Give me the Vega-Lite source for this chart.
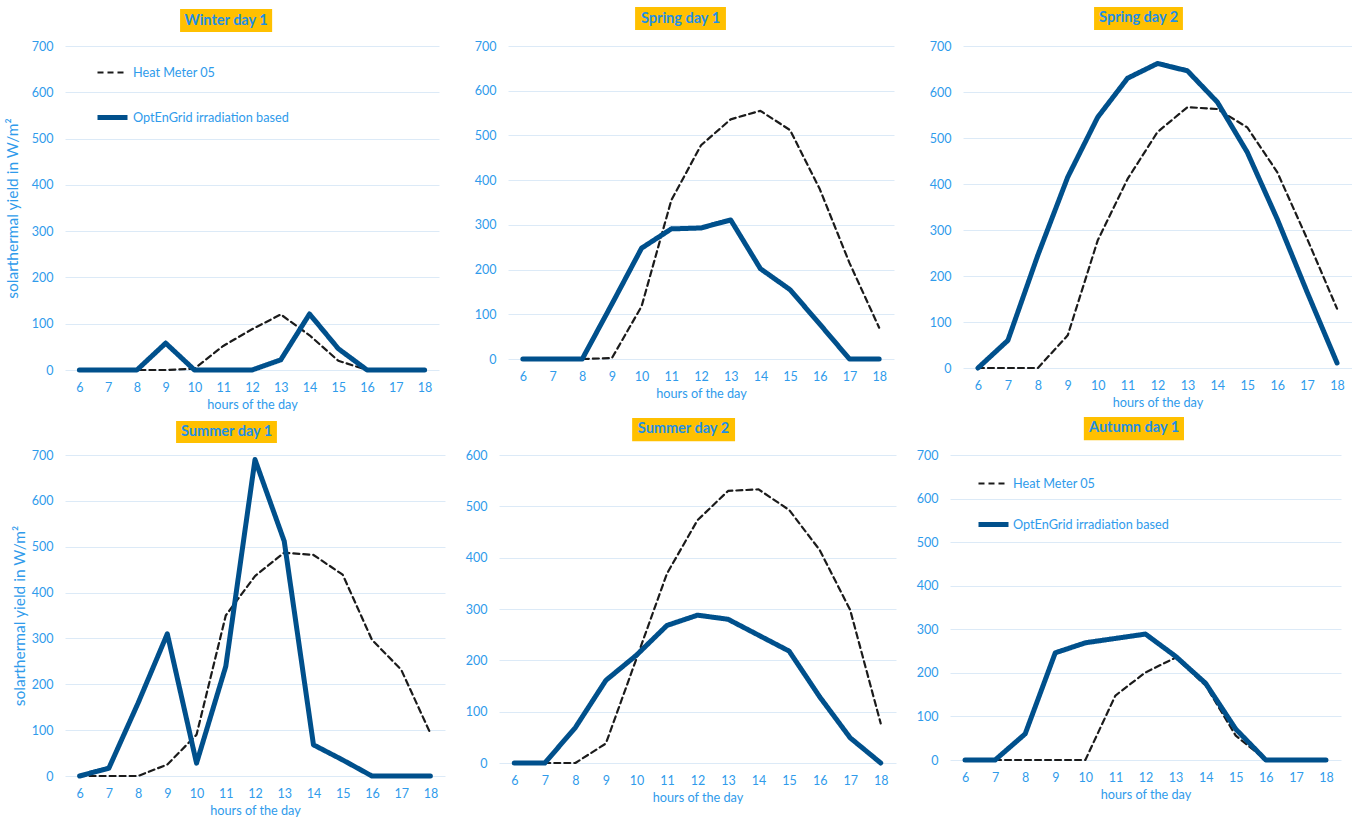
{
  "$schema": "https://vega.github.io/schema/vega-lite/v6.json",
  "padding": {"left": 5, "top": 6, "right": 0, "bottom": 0},
  "background": "white",
  "datasets": {
    "d": [
      {"p":"W1","h":6,"hm":0,"og":0},{"p":"W1","h":7,"hm":0,"og":0},{"p":"W1","h":8,"hm":0,"og":0},{"p":"W1","h":9,"hm":0,"og":58},{"p":"W1","h":10,"hm":3,"og":0},{"p":"W1","h":11,"hm":52,"og":0},{"p":"W1","h":12,"hm":88,"og":0},{"p":"W1","h":13,"hm":120,"og":22},{"p":"W1","h":14,"hm":75,"og":121},{"p":"W1","h":15,"hm":20,"og":46},{"p":"W1","h":16,"hm":0,"og":0},{"p":"W1","h":17,"hm":0,"og":0},{"p":"W1","h":18,"hm":0,"og":0},
      {"p":"S1","h":6,"hm":0,"og":0},{"p":"S1","h":7,"hm":0,"og":0},{"p":"S1","h":8,"hm":0,"og":0},{"p":"S1","h":9,"hm":2,"og":123},{"p":"S1","h":10,"hm":118,"og":248},{"p":"S1","h":11,"hm":355,"og":291},{"p":"S1","h":12,"hm":478,"og":293},{"p":"S1","h":13,"hm":536,"og":311},{"p":"S1","h":14,"hm":555,"og":202},{"p":"S1","h":15,"hm":512,"og":155},{"p":"S1","h":16,"hm":380,"og":78},{"p":"S1","h":17,"hm":215,"og":0},{"p":"S1","h":18,"hm":70,"og":0},
      {"p":"S2","h":6,"hm":0,"og":0},{"p":"S2","h":7,"hm":0,"og":60},{"p":"S2","h":8,"hm":0,"og":245},{"p":"S2","h":9,"hm":71,"og":415},{"p":"S2","h":10,"hm":277,"og":545},{"p":"S2","h":11,"hm":411,"og":630},{"p":"S2","h":12,"hm":513,"og":662},{"p":"S2","h":13,"hm":567,"og":646},{"p":"S2","h":14,"hm":563,"og":578},{"p":"S2","h":15,"hm":523,"og":469},{"p":"S2","h":16,"hm":426,"og":324},{"p":"S2","h":17,"hm":281,"og":165},{"p":"S2","h":18,"hm":129,"og":11},
      {"p":"U1","h":6,"hm":0,"og":0},{"p":"U1","h":7,"hm":0,"og":17},{"p":"U1","h":8,"hm":0,"og":159},{"p":"U1","h":9,"hm":25,"og":310},{"p":"U1","h":10,"hm":90,"og":28},{"p":"U1","h":11,"hm":350,"og":239},{"p":"U1","h":12,"hm":436,"og":690},{"p":"U1","h":13,"hm":487,"og":512},{"p":"U1","h":14,"hm":482,"og":68},{"p":"U1","h":15,"hm":439,"og":35},{"p":"U1","h":16,"hm":297,"og":0},{"p":"U1","h":17,"hm":232,"og":0},{"p":"U1","h":18,"hm":93,"og":0},
      {"p":"U2","h":6,"hm":0,"og":0},{"p":"U2","h":7,"hm":0,"og":0},{"p":"U2","h":8,"hm":0,"og":69},{"p":"U2","h":9,"hm":38,"og":161},{"p":"U2","h":10,"hm":203,"og":210},{"p":"U2","h":11,"hm":369,"og":268},{"p":"U2","h":12,"hm":473,"og":288},{"p":"U2","h":13,"hm":530,"og":280},{"p":"U2","h":14,"hm":533,"og":249},{"p":"U2","h":15,"hm":493,"og":218},{"p":"U2","h":16,"hm":415,"og":129},{"p":"U2","h":17,"hm":298,"og":49},{"p":"U2","h":18,"hm":77,"og":0},
      {"p":"A1","h":6,"hm":0,"og":0},{"p":"A1","h":7,"hm":0,"og":0},{"p":"A1","h":8,"hm":0,"og":60},{"p":"A1","h":9,"hm":0,"og":246},{"p":"A1","h":10,"hm":0,"og":269},{"p":"A1","h":11,"hm":148,"og":279},{"p":"A1","h":12,"hm":201,"og":289},{"p":"A1","h":13,"hm":235,"og":238},{"p":"A1","h":14,"hm":171,"og":176},{"p":"A1","h":15,"hm":56,"og":71},{"p":"A1","h":16,"hm":0,"og":0},{"p":"A1","h":17,"hm":0,"og":0},{"p":"A1","h":18,"hm":0,"og":0}
    ]
  },
  "columns": 1,
  "align": "none",
  "spacing": 5,
  "concat": [
    {
      "spacing": 35,
      "resolve": {"scale": {"color": "independent", "strokeDash": "independent", "strokeWidth": "independent"}, "legend": {"color": "independent", "strokeDash": "independent", "strokeWidth": "independent"}},
      "hconcat": [
        {
          "width": 374, "height": 324,
          "layer": [
            {
              "data": {"name": "d"},
              "transform": [{"filter": "datum.p == 'W1'"}, {"fold": ["hm", "og"], "as": ["s", "v"]}],
              "mark": {"type": "line", "strokeCap": "round", "strokeJoin": "round", "clip": false},
              "encoding": {
                "x": {"field": "h", "type": "quantitative", "scale": {"domain": [5.5, 18.5], "nice": false, "zero": false}, "axis": {"values": [6,7,8,9,10,11,12,13,14,15,16,17,18], "tickCount": 13, "labelOverlap": false, "title": "hours of the day"}},
                "y": {"field": "v", "type": "quantitative", "scale": {"domain": [0, 700], "nice": false}, "axis": {"values": [0,100,200,300,400,500,600,700], "title": "solarthermal yield in W/m²"}},
                "color": {"field": "s", "type": "nominal", "scale": {"domain": ["hm", "og"], "range": ["#1b1b1b", "#00508C"]}, "legend": {"orient": "none", "legendX": 30, "legendY": 10, "title": null, "direction": "vertical", "symbolType": "stroke", "symbolSize": 900, "rowPadding": 20, "labelOffset": 3, "labelFontSize": 12.7, "labelColor": "#2F9BEB", "labelExpr": "datum.label == 'hm' ? 'Heat Meter 05' : 'OptEnGrid irradiation based'"}},
                "strokeDash": {"field": "s", "type": "nominal", "scale": {"domain": ["hm", "og"], "range": [[6, 4], [1, 0]]}, "legend": {"orient": "none", "legendX": 30, "legendY": 10, "title": null, "direction": "vertical", "symbolType": "stroke", "symbolSize": 900, "rowPadding": 20, "labelOffset": 3, "labelFontSize": 12.7, "labelColor": "#2F9BEB", "labelExpr": "datum.label == 'hm' ? 'Heat Meter 05' : 'OptEnGrid irradiation based'"}},
                "strokeWidth": {"field": "s", "type": "nominal", "scale": {"type": "ordinal", "domain": ["hm", "og"], "range": [2.2, 5]}, "legend": {"orient": "none", "legendX": 30, "legendY": 10, "title": null, "direction": "vertical", "symbolType": "stroke", "symbolSize": 900, "rowPadding": 20, "labelOffset": 3, "labelFontSize": 12.7, "labelColor": "#2F9BEB", "labelExpr": "datum.label == 'hm' ? 'Heat Meter 05' : 'OptEnGrid irradiation based'"}}
              }
            },
            {
              "data": {"values": [{}]},
              "mark": {"type": "rect", "fill": "#FFC000", "clip": false},
              "encoding": {"x": {"datum": 9.5, "type": "quantitative"}, "x2": {"datum": 12.7}, "y": {"datum": 730, "type": "quantitative"}, "y2": {"datum": 780}}
            },
            {
              "data": {"values": [{}]},
              "mark": {"type": "text", "text": "Winter day 1", "fontWeight": "bold", "fontSize": 14.5, "color": "#1E8FE6", "clip": false},
              "encoding": {"x": {"datum": 11.1, "type": "quantitative"}, "y": {"datum": 755, "type": "quantitative"}}
            }
          ]
        },
        {
          "width": 386, "height": 313,
          "layer": [
            {
              "data": {"name": "d"},
              "transform": [{"filter": "datum.p == 'S1'"}, {"fold": ["hm", "og"], "as": ["s", "v"]}],
              "mark": {"type": "line", "strokeCap": "round", "strokeJoin": "round", "clip": false},
              "encoding": {
                "x": {"field": "h", "type": "quantitative", "scale": {"domain": [5.5, 18.5], "nice": false, "zero": false}, "axis": {"values": [6,7,8,9,10,11,12,13,14,15,16,17,18], "tickCount": 13, "labelOverlap": false, "title": "hours of the day"}},
                "y": {"field": "v", "type": "quantitative", "scale": {"domain": [0, 700], "nice": false}, "axis": {"values": [0,100,200,300,400,500,600,700], "title": null}},
                "color": {"field": "s", "type": "nominal", "scale": {"domain": ["hm", "og"], "range": ["#1b1b1b", "#00508C"]}, "legend": null},
                "strokeDash": {"field": "s", "type": "nominal", "scale": {"domain": ["hm", "og"], "range": [[6, 4], [1, 0]]}, "legend": null},
                "strokeWidth": {"field": "s", "type": "nominal", "scale": {"type": "ordinal", "domain": ["hm", "og"], "range": [2.2, 5]}, "legend": null}
              }
            },
            {
              "data": {"values": [{}]},
              "mark": {"type": "rect", "fill": "#FFC000", "clip": false},
              "encoding": {"x": {"datum": 9.78, "type": "quantitative"}, "x2": {"datum": 12.84}, "y": {"datum": 736, "type": "quantitative"}, "y2": {"datum": 787}}
            },
            {
              "data": {"values": [{}]},
              "mark": {"type": "text", "text": "Spring  day 1", "fontWeight": "bold", "fontSize": 14.5, "color": "#1E8FE6", "clip": false},
              "encoding": {"x": {"datum": 11.31, "type": "quantitative"}, "y": {"datum": 761, "type": "quantitative"}}
            }
          ]
        },
        {
          "width": 389, "height": 322,
          "layer": [
            {
              "data": {"name": "d"},
              "transform": [{"filter": "datum.p == 'S2'"}, {"fold": ["hm", "og"], "as": ["s", "v"]}],
              "mark": {"type": "line", "strokeCap": "round", "strokeJoin": "round", "clip": false},
              "encoding": {
                "x": {"field": "h", "type": "quantitative", "scale": {"domain": [5.5, 18.5], "nice": false, "zero": false}, "axis": {"values": [6,7,8,9,10,11,12,13,14,15,16,17,18], "tickCount": 13, "labelOverlap": false, "title": "hours of the day"}},
                "y": {"field": "v", "type": "quantitative", "scale": {"domain": [0, 700], "nice": false}, "axis": {"values": [0,100,200,300,400,500,600,700], "title": null}},
                "color": {"field": "s", "type": "nominal", "scale": {"domain": ["hm", "og"], "range": ["#1b1b1b", "#00508C"]}, "legend": null},
                "strokeDash": {"field": "s", "type": "nominal", "scale": {"domain": ["hm", "og"], "range": [[6, 4], [1, 0]]}, "legend": null},
                "strokeWidth": {"field": "s", "type": "nominal", "scale": {"type": "ordinal", "domain": ["hm", "og"], "range": [2.2, 5]}, "legend": null}
              }
            },
            {
              "data": {"values": [{}]},
              "mark": {"type": "rect", "fill": "#FFC000", "clip": false},
              "encoding": {"x": {"datum": 9.88, "type": "quantitative"}, "x2": {"datum": 12.85}, "y": {"datum": 735, "type": "quantitative"}, "y2": {"datum": 785}}
            },
            {
              "data": {"values": [{}]},
              "mark": {"type": "text", "text": "Spring day 2", "fontWeight": "bold", "fontSize": 14.5, "color": "#1E8FE6", "clip": false},
              "encoding": {"x": {"datum": 11.37, "type": "quantitative"}, "y": {"datum": 760, "type": "quantitative"}}
            }
          ]
        }
      ]
    },
    {
      "spacing": 20,
      "resolve": {"scale": {"color": "independent", "strokeDash": "independent", "strokeWidth": "independent"}, "legend": {"color": "independent", "strokeDash": "independent", "strokeWidth": "independent"}},
      "hconcat": [
        {
          "width": 380, "height": 321,
          "layer": [
            {
              "data": {"name": "d"},
              "transform": [{"filter": "datum.p == 'U1'"}, {"fold": ["hm", "og"], "as": ["s", "v"]}],
              "mark": {"type": "line", "strokeCap": "round", "strokeJoin": "round", "clip": false},
              "encoding": {
                "x": {"field": "h", "type": "quantitative", "scale": {"domain": [5.5, 18.5], "nice": false, "zero": false}, "axis": {"values": [6,7,8,9,10,11,12,13,14,15,16,17,18], "tickCount": 13, "labelOverlap": false, "title": "hours of the day"}},
                "y": {"field": "v", "type": "quantitative", "scale": {"domain": [0, 700], "nice": false}, "axis": {"values": [0,100,200,300,400,500,600,700], "titlePadding": 4, "title": "solarthermal yield in W/m²"}},
                "color": {"field": "s", "type": "nominal", "scale": {"domain": ["hm", "og"], "range": ["#1b1b1b", "#00508C"]}, "legend": null},
                "strokeDash": {"field": "s", "type": "nominal", "scale": {"domain": ["hm", "og"], "range": [[6, 4], [1, 0]]}, "legend": null},
                "strokeWidth": {"field": "s", "type": "nominal", "scale": {"type": "ordinal", "domain": ["hm", "og"], "range": [2.2, 5]}, "legend": null}
              }
            },
            {
              "data": {"values": [{}]},
              "mark": {"type": "rect", "fill": "#FFC000", "clip": false},
              "encoding": {"x": {"datum": 9.3, "type": "quantitative"}, "x2": {"datum": 12.75}, "y": {"datum": 726, "type": "quantitative"}, "y2": {"datum": 774}}
            },
            {
              "data": {"values": [{}]},
              "mark": {"type": "text", "text": "Summer day 1", "fontWeight": "bold", "fontSize": 14.5, "color": "#1E8FE6", "clip": false},
              "encoding": {"x": {"datum": 11.03, "type": "quantitative"}, "y": {"datum": 750, "type": "quantitative"}}
            }
          ]
        },
        {
          "width": 397, "height": 308,
          "layer": [
            {
              "data": {"name": "d"},
              "transform": [{"filter": "datum.p == 'U2'"}, {"fold": ["hm", "og"], "as": ["s", "v"]}],
              "mark": {"type": "line", "strokeCap": "round", "strokeJoin": "round", "clip": false},
              "encoding": {
                "x": {"field": "h", "type": "quantitative", "scale": {"domain": [5.5, 18.5], "nice": false, "zero": false}, "axis": {"values": [6,7,8,9,10,11,12,13,14,15,16,17,18], "tickCount": 13, "labelOverlap": false, "title": "hours of the day"}},
                "y": {"field": "v", "type": "quantitative", "scale": {"domain": [0, 600], "nice": false}, "axis": {"values": [0,100,200,300,400,500,600], "title": null}},
                "color": {"field": "s", "type": "nominal", "scale": {"domain": ["hm", "og"], "range": ["#1b1b1b", "#00508C"]}, "legend": null},
                "strokeDash": {"field": "s", "type": "nominal", "scale": {"domain": ["hm", "og"], "range": [[6, 4], [1, 0]]}, "legend": null},
                "strokeWidth": {"field": "s", "type": "nominal", "scale": {"type": "ordinal", "domain": ["hm", "og"], "range": [2.2, 5]}, "legend": null}
              }
            },
            {
              "data": {"values": [{}]},
              "mark": {"type": "rect", "fill": "#FFC000", "clip": false},
              "encoding": {"x": {"datum": 9.86, "type": "quantitative"}, "x2": {"datum": 13.23}, "y": {"datum": 627, "type": "quantitative"}, "y2": {"datum": 672}}
            },
            {
              "data": {"values": [{}]},
              "mark": {"type": "text", "text": "Summer day 2", "fontWeight": "bold", "fontSize": 14.5, "color": "#1E8FE6", "clip": false},
              "encoding": {"x": {"datum": 11.54, "type": "quantitative"}, "y": {"datum": 650, "type": "quantitative"}}
            }
          ]
        },
        {
          "width": 391, "height": 305,
          "layer": [
            {
              "data": {"name": "d"},
              "transform": [{"filter": "datum.p == 'A1'"}, {"fold": ["hm", "og"], "as": ["s", "v"]}],
              "mark": {"type": "line", "strokeCap": "round", "strokeJoin": "round", "clip": false},
              "encoding": {
                "x": {"field": "h", "type": "quantitative", "scale": {"domain": [5.5, 18.5], "nice": false, "zero": false}, "axis": {"values": [6,7,8,9,10,11,12,13,14,15,16,17,18], "tickCount": 13, "labelOverlap": false, "title": "hours of the day"}},
                "y": {"field": "v", "type": "quantitative", "scale": {"domain": [0, 700], "nice": false}, "axis": {"values": [0,100,200,300,400,500,600,700], "title": null}},
                "color": {"field": "s", "type": "nominal", "scale": {"domain": ["hm", "og"], "range": ["#1b1b1b", "#00508C"]}, "legend": {"orient": "none", "legendX": 26, "legendY": 12, "title": null, "direction": "vertical", "symbolType": "stroke", "symbolSize": 900, "rowPadding": 16, "labelOffset": 2, "labelFontSize": 12.7, "labelColor": "#2F9BEB", "labelExpr": "datum.label == 'hm' ? 'Heat Meter 05' : 'OptEnGrid irradiation based'"}},
                "strokeDash": {"field": "s", "type": "nominal", "scale": {"domain": ["hm", "og"], "range": [[6, 4], [1, 0]]}, "legend": {"orient": "none", "legendX": 26, "legendY": 12, "title": null, "direction": "vertical", "symbolType": "stroke", "symbolSize": 900, "rowPadding": 16, "labelOffset": 2, "labelFontSize": 12.7, "labelColor": "#2F9BEB", "labelExpr": "datum.label == 'hm' ? 'Heat Meter 05' : 'OptEnGrid irradiation based'"}},
                "strokeWidth": {"field": "s", "type": "nominal", "scale": {"type": "ordinal", "domain": ["hm", "og"], "range": [2.2, 5]}, "legend": {"orient": "none", "legendX": 26, "legendY": 12, "title": null, "direction": "vertical", "symbolType": "stroke", "symbolSize": 900, "rowPadding": 16, "labelOffset": 2, "labelFontSize": 12.7, "labelColor": "#2F9BEB", "labelExpr": "datum.label == 'hm' ? 'Heat Meter 05' : 'OptEnGrid irradiation based'"}}
              }
            },
            {
              "data": {"values": [{}]},
              "mark": {"type": "rect", "fill": "#FFC000", "clip": false},
              "encoding": {"x": {"datum": 9.95, "type": "quantitative"}, "x2": {"datum": 13.28}, "y": {"datum": 734, "type": "quantitative"}, "y2": {"datum": 787}}
            },
            {
              "data": {"values": [{}]},
              "mark": {"type": "text", "text": "Autumn day 1", "fontWeight": "bold", "fontSize": 14.5, "color": "#1E8FE6", "clip": false},
              "encoding": {"x": {"datum": 11.62, "type": "quantitative"}, "y": {"datum": 761, "type": "quantitative"}}
            }
          ]
        }
      ]
    }
  ],
  "resolve": {"scale": {"color": "independent", "strokeDash": "independent", "strokeWidth": "independent"}, "legend": {"color": "independent", "strokeDash": "independent", "strokeWidth": "independent"}},
  "config": {
    "font": "Lato",
    "view": {"stroke": null},
    "axis": {"domain": false, "ticks": false, "labelOverlap": false, "labelColor": "#2F9BEB", "titleColor": "#2F9BEB", "labelFontSize": 12.5, "titleFontSize": 12.7, "titleFontWeight": "normal", "gridColor": "#DCEAF7", "gridWidth": 1},
    "axisX": {"grid": false, "labelPadding": 11, "titlePadding": 5},
    "axisY": {"labelPadding": 12, "titlePadding": 11, "titleFontSize": 15.5}
  }
}
